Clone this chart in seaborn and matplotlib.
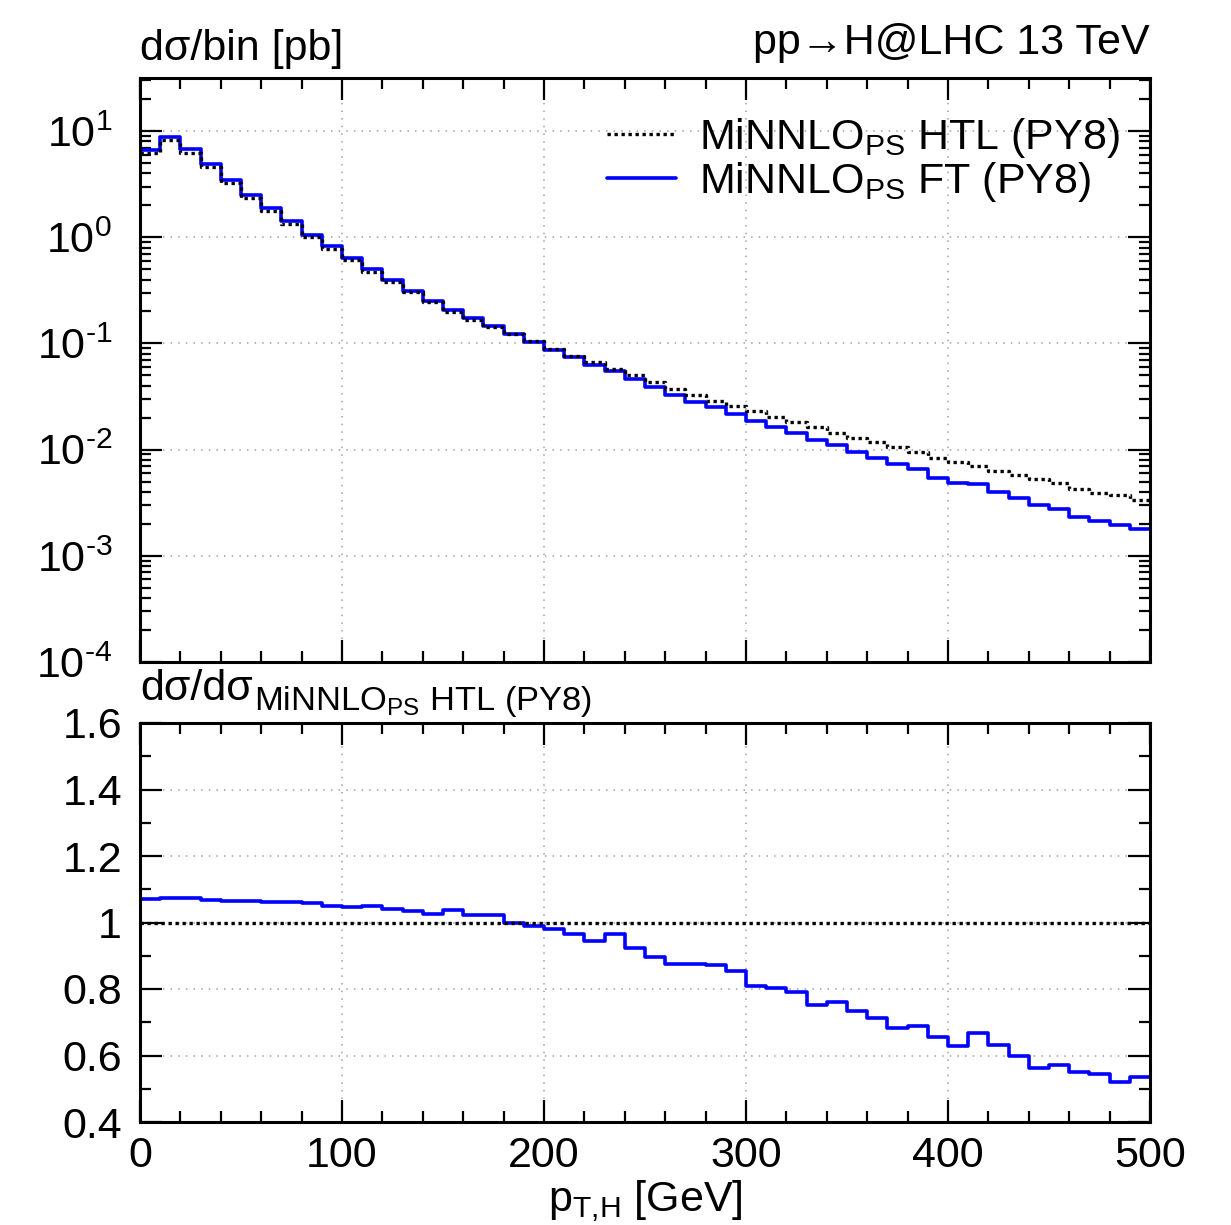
import numpy as np
import pandas as pd
import matplotlib
matplotlib.use("Agg")
import matplotlib.pyplot as plt
import seaborn as sns
from matplotlib.ticker import LogLocator, MultipleLocator, FuncFormatter, NullFormatter

# bin lower edges of the pT,H histogram [GeV], 10 GeV bins up to 500
pt_low = np.arange(0, 500, 10)

# MiNNLO_PS HTL (PY8), dsigma/bin [pb]
htl_xsec = [6.24, 8.25, 6.27, 4.58, 3.27, 2.36, 1.77, 1.33, 1.00, 0.781,
            0.608, 0.476, 0.380, 0.304, 0.247, 0.199, 0.168, 0.144, 0.122, 0.1045,
            0.0890, 0.0765, 0.0665, 0.0575, 0.0503, 0.0436, 0.0370, 0.0324, 0.0288, 0.0256,
            0.0230, 0.0204, 0.0183, 0.0164, 0.01445, 0.0130, 0.0118, 0.0106, 0.0095, 0.0083,
            0.00767, 0.00708, 0.00635, 0.00580, 0.00531, 0.00482, 0.00422, 0.00390, 0.00372, 0.00334]

# ratio FT / HTL
ft_ratio = [1.070, 1.073, 1.073, 1.069, 1.066, 1.066, 1.063, 1.063, 1.059, 1.050,
            1.047, 1.049, 1.042, 1.035, 1.026, 1.038, 1.024, 1.024, 0.997, 0.990,
            0.980, 0.966, 0.944, 0.964, 0.923, 0.897, 0.876, 0.874, 0.873, 0.854,
            0.810, 0.804, 0.792, 0.752, 0.761, 0.733, 0.714, 0.684, 0.688, 0.655,
            0.628, 0.669, 0.632, 0.598, 0.563, 0.571, 0.549, 0.545, 0.520, 0.534]

ft_xsec = [h * r for h, r in zip(htl_xsec, ft_ratio)]

# close the last bin at 500 GeV for the step drawing
edges = list(pt_low) + [500]
df = pd.DataFrame({
    "pt": edges,
    "htl": htl_xsec + [htl_xsec[-1]],
    "ft": ft_xsec + [ft_xsec[-1]],
    "ratio": ft_ratio + [ft_ratio[-1]],
    "one": [1.0] * len(edges),
})

sns.set_style("white")
plt.rcParams["font.family"] = ["Liberation Sans", "DejaVu Sans"]
plt.rcParams["mathtext.fontset"] = "custom"
plt.rcParams["mathtext.rm"] = "Liberation Sans"
plt.rcParams["mathtext.it"] = "Liberation Sans"
plt.rcParams["mathtext.bf"] = "Liberation Sans"
plt.rcParams["axes.unicode_minus"] = False
for key in ("text.color", "axes.labelcolor", "xtick.color", "ytick.color", "axes.edgecolor"):
    plt.rcParams[key] = "black"

FS = 31
blue = "#0000ff"
dots = (0, (1, 1.1))

fig = plt.figure(figsize=(12.31, 12.25), dpi=100)
ax1 = fig.add_axes([140 / 1231, 1 - 662 / 1225, 1010 / 1231, 584 / 1225])
ax2 = fig.add_axes([140 / 1231, 1 - 1122 / 1225, 1010 / 1231, 399 / 1225])

# top panel: cross sections
sns.lineplot(data=df, x="pt", y="htl", ax=ax1, color="black", linestyle=dots, lw=2.4,
             drawstyle="steps-post", estimator=None, label=r"MiNNLO$_{\mathrm{PS}}$ HTL (PY8)", zorder=3)
sns.lineplot(data=df, x="pt", y="ft", ax=ax1, color=blue, lw=2.6,
             drawstyle="steps-post", estimator=None, label=r"MiNNLO$_{\mathrm{PS}}$ FT (PY8)", zorder=2)
ax1.set_yscale("log")
ax1.set_ylim(1e-4, 10 ** 1.5)
ax1.yaxis.set_major_locator(LogLocator(base=10, numticks=20))
ax1.yaxis.set_minor_locator(LogLocator(base=10, subs=np.arange(2, 10), numticks=20))
ax1.yaxis.set_minor_formatter(NullFormatter())
ax1.yaxis.set_major_formatter(FuncFormatter(
    lambda v, p: r"$\mathregular{10^{\text{%d}}}$" % round(np.log10(v))))

# bottom panel: ratio to HTL
sns.lineplot(data=df, x="pt", y="one", ax=ax2, color="black", linestyle=dots, lw=2.4,
             drawstyle="steps-post", estimator=None, legend=False, zorder=3)
sns.lineplot(data=df, x="pt", y="ratio", ax=ax2, color=blue, lw=2.6,
             drawstyle="steps-post", estimator=None, legend=False, zorder=2)
ax2.set_ylim(0.4, 1.6)
ax2.yaxis.set_major_locator(MultipleLocator(0.2))
ax2.yaxis.set_minor_locator(MultipleLocator(0.1))
ax2.yaxis.set_major_formatter(FuncFormatter(lambda v, p: "%g" % round(v, 1)))

for ax in (ax1, ax2):
    ax.set_xlim(0, 500)
    ax.xaxis.set_major_locator(MultipleLocator(100))
    ax.xaxis.set_minor_locator(MultipleLocator(20))
    ax.set_xlabel("")
    ax.set_ylabel("")
    ax.grid(True, which="major", color="#a0a0a0", linestyle=(0, (1, 4)), lw=1.1)
    ax.tick_params(which="both", direction="in", top=True, right=True, bottom=True, left=True,
                   width=1.6, labelsize=FS, color="black", labelcolor="black")
    ax.tick_params(which="major", length=16)
    ax.tick_params(which="minor", length=8)
    for s in ax.spines.values():
        s.set_linewidth(2.2)
        s.set_color("black")
ax1.tick_params(labelbottom=False)
ax1.tick_params(axis="y", which="major", pad=20)
ax2.tick_params(axis="y", which="major", pad=13)
ax2.tick_params(axis="x", pad=10)

leg = ax1.legend(loc="upper left", bbox_to_anchor=(0.462, 0.935), frameon=False, fontsize=FS,
                 handlelength=1.6, handletextpad=0.55, labelspacing=0.0, borderpad=0, borderaxespad=0)
for t in leg.get_texts():
    t.set_color("black")

fig.text(140 / 1231, 1 - 60 / 1225, "dσ/bin [pb]", fontsize=FS, ha="left", va="baseline")
fig.text(1150 / 1231, 1 - 54 / 1225, "pp→H@LHC 13 TeV", fontsize=FS, ha="right", va="baseline")

# ratio panel label: main part plus a larger-than-default subscript
t_main = fig.text(140 / 1231, 1 - 700 / 1225, "dσ/dσ", fontsize=FS, ha="left", va="baseline")
fig.canvas.draw()
x_end = t_main.get_window_extent(fig.canvas.get_renderer()).x1 / fig.bbox.width
fig.text(x_end + 1 / 1231, 1 - 710 / 1225, r"MiNNLO$_{\mathregular{PS}}$ HTL (PY8)",
         fontsize=FS * 0.8, ha="left", va="baseline")

fig.text(645 / 1231, 1 - 1211 / 1225, r"p$_{\mathregular{T{,}H}}$ [GeV]", fontsize=FS,
         ha="center", va="baseline")

fig.savefig("out.png", dpi=100)
